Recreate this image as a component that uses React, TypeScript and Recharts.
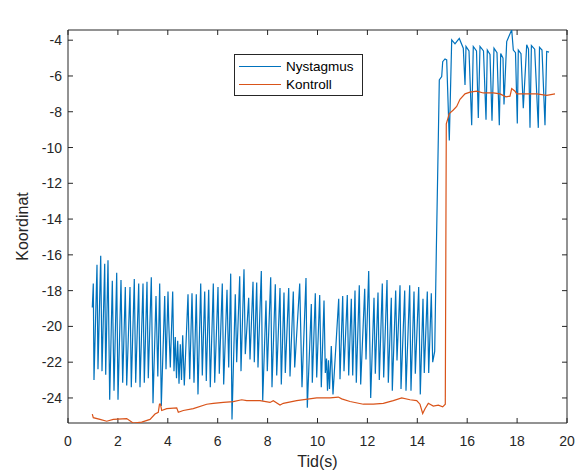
import React from 'react';
import { LineChart, Line, XAxis, YAxis, Legend, ReferenceArea, ReferenceLine } from 'recharts';

// Nystagmus (blue) – time in s, coordinate
const nystagmusTid = [
  0.974, 1.014, 1.042, 1.162, 1.202, 1.311, 1.363, 1.471, 1.511, 1.603, 1.671, 1.776, 1.844, 1.952, 2.004,
  2.124, 2.192, 2.297, 2.353, 2.485, 2.537, 2.657, 2.713, 2.834, 2.886, 3.006, 3.058, 3.166, 3.218, 3.339,
  3.407, 3.527, 3.6, 3.675, 3.74, 3.876, 3.928, 4.008, 4.036, 4.1, 4.196, 4.248, 4.3, 4.349, 4.397, 4.449,
  4.501, 4.549, 4.597, 4.661, 4.81, 4.878, 4.97, 5.05, 5.142, 5.21, 5.319, 5.383, 5.479, 5.543, 5.639, 5.703,
  5.824, 5.88, 6.012, 6.064, 6.184, 6.24, 6.373, 6.441, 6.521, 6.573, 6.705, 6.761, 6.882, 6.934, 7.054,
  7.106, 7.242, 7.295, 7.415, 7.467, 7.563, 7.615, 7.748, 7.804, 7.936, 7.988, 8.124, 8.176, 8.309, 8.365,
  8.497, 8.549, 8.657, 8.709, 8.846, 8.898, 9.03, 9.086, 9.287, 9.379, 9.539, 9.591, 9.752, 9.792, 9.912,
  9.968, 10.088, 10.152, 10.261, 10.313, 10.361, 10.401, 10.441, 10.481, 10.553, 10.621, 10.85, 10.902,
  11.01, 11.062, 11.194, 11.25, 11.355, 11.411, 11.503, 11.555, 11.675, 11.731, 11.892, 11.944, 12.052,
  12.132, 12.265, 12.317, 12.425, 12.477, 12.597, 12.653, 12.786, 12.838, 12.958, 12.998, 13.134, 13.186,
  13.307, 13.347, 13.495, 13.547, 13.695, 13.747, 13.868, 13.92, 14.056, 14.12, 14.228, 14.28, 14.401,
  14.457, 14.561, 14.617, 14.697, 14.762, 14.842, 14.882, 14.978, 15.018, 15.11, 15.178, 15.283, 15.379,
  15.511, 15.579, 15.683, 15.843, 15.912, 15.952, 16.072, 16.18, 16.244, 16.373, 16.445, 16.513, 16.653,
  16.754, 16.806, 16.914, 16.994, 17.074, 17.194, 17.287, 17.343, 17.435, 17.475, 17.583, 17.784, 17.848,
  17.936, 18.008, 18.048, 18.156, 18.248, 18.385, 18.457, 18.517, 18.573, 18.705, 18.85, 18.898, 18.998,
  19.118, 19.186, 19.279,
];
const nystagmusVarde = [
  -18.94, -17.6, -23.0, -16.55, -22.4, -16.05, -22.5, -16.5, -22.7, -16.3, -24.1, -17.45, -23.6, -17.0, -24.1,
  -17.4, -23.15, -17.8, -23.3, -17.8, -23.4, -17.35, -23.15, -17.6, -23.4, -17.6, -23.15, -17.5, -22.9, -17.25,
  -24.3, -18.3, -22.8, -17.6, -24.45, -18.3, -22.4, -18.05, -19.7, -22.3, -18.05, -22.5, -20.6, -22.9, -20.8, -23.2,
  -21.0, -23.0, -20.5, -23.3, -18.2, -22.95, -18.15, -23.15, -18.2, -23.8, -17.6, -22.75, -18.05, -23.05, -17.95, -23.4,
  -17.6, -23.15, -17.8, -22.65, -17.6, -23.25, -17.95, -22.3, -17.05, -25.2, -18.2, -22.0, -17.2, -22.5, -16.8,
  -21.55, -18.4, -21.85, -17.5, -22.0, -17.55, -22.3, -16.9, -24.15, -18.55, -22.5, -17.25, -23.4, -17.65, -22.75,
  -17.85, -23.25, -18.1, -22.6, -17.85, -22.8, -18.05, -22.3, -17.6, -23.4, -17.3, -24.55, -18.75, -23.15, -18.15,
  -22.85, -18.25, -23.4, -18.55, -22.6, -21.8, -23.6, -21.9, -23.5, -21.1, -23.8, -18.45, -22.95,
  -18.3, -22.5, -18.25, -22.75, -18.45, -22.75, -18.0, -23.15, -17.7, -23.25, -17.9, -21.85, -16.9,
  -24.0, -18.4, -22.65, -18.1, -23.0, -17.6, -22.85, -17.4, -23.15, -18.4, -23.6, -18.0, -21.9,
  -17.7, -23.5, -18.0, -23.6, -17.7, -23.6, -18.05, -22.65, -17.8, -23.8, -18.45, -22.6, -18.05,
  -22.6, -18.15, -22.0, -21.4, -15.8, -9.5, -6.22, -6.03, -5.2, -5.05, -5.1, -9.6, -3.98,
  -4.2, -4.08, -3.9, -4.45, -6.5, -4.35, -4.6, -8.75, -4.35, -4.6, -8.35, -4.35, -4.6,
  -8.45, -4.55, -4.8, -8.5, -4.45, -4.7, -8.75, -4.75, -5.0, -7.6, -4.08, -3.42, -4.55,
  -4.7, -8.65, -4.55, -4.75, -7.8, -4.26, -4.5, -8.9, -4.3, -4.5, -8.9, -4.4, -4.55,
  -8.75, -4.63, -4.67,
];

// Kontroll (orange)
const kontrollTid = [
  0.974, 1.014, 1.283, 1.551, 1.816, 2.353, 2.553, 2.617, 2.954, 3.287, 3.487, 3.619, 3.667, 3.707, 3.755,
  3.956, 4.357, 4.421, 4.621, 5.022, 5.559, 5.824, 6.224, 6.625, 6.962, 7.162, 7.563, 7.695, 8.096, 8.228,
  8.497, 8.629, 9.166, 9.968, 10.501, 10.834, 10.97, 11.303, 11.836, 12.236, 12.637, 13.038, 13.375, 13.707,
  13.976, 14.108, 14.216, 14.309, 14.441, 14.641, 14.842, 15.018, 15.122, 15.162, 15.283, 15.443, 15.579,
  15.711, 15.912, 16.112, 16.381, 16.645, 17.046, 17.315, 17.555, 17.715, 17.784, 17.916, 17.984, 18.385,
  18.785, 19.186, 19.519,
];
const kontrollVarde = [
  -24.9, -25.1, -25.2, -25.3, -25.2, -25.15, -25.35, -25.4, -25.35, -25.2, -24.9, -24.8, -24.35, -24.35, -24.7,
  -24.6, -24.55, -24.8, -24.7, -24.6, -24.35, -24.3, -24.25, -24.2, -24.1, -24.15, -24.15, -24.15, -24.25, -24.15,
  -24.4, -24.3, -24.15, -24.0, -24.0, -23.95, -24.05, -24.2, -24.35, -24.35, -24.3, -24.15, -24.0, -24.1,
  -24.15, -24.35, -24.87, -24.6, -24.3, -24.45, -24.4, -24.5, -24.35, -8.67, -8.1, -7.9, -7.7,
  -7.3, -7.0, -6.9, -6.85, -6.95, -6.95, -7.0, -7.17, -7.13, -6.7, -6.85, -7.0, -7.0,
  -7.0, -7.08, -7.0,
];

const tidTicks = [0, 2, 4, 6, 8, 10, 12, 14, 16, 18, 20];
const koordinatTicks = [-24, -22, -20, -18, -16, -14, -12, -10, -8, -6, -4];
const serieNamn = ['Nystagmus', 'Kontroll'];

const nystagmusData = nystagmusTid.map((t, i) => ({ t, v: nystagmusVarde[i] }));
const kontrollData = kontrollTid.map((t, i) => ({ t, v: kontrollVarde[i] }));

const AXIS = '#262626';
const FONT = '"Liberation Sans", Arial, Helvetica, sans-serif';
const X_DOMAIN: [number, number] = [0, 20];
const Y_DOMAIN: [number, number] = [-25.4, -3.43];
// inward tick length, in axis units (about 5 px)
const TICK_X = 0.2;
const TICK_Y = 0.28;

const BottomTick = ({ x, y, payload }: any) => (
  <text x={x} y={y + 23} textAnchor="middle" fill={AXIS} fontSize={14} fontFamily={FONT}>
    {payload.value}
  </text>
);

const LeftTick = ({ x, y, payload }: any) => (
  <text x={x - 6} y={y + 5} textAnchor="end" fill={AXIS} fontSize={14} fontFamily={FONT}>
    {payload.value}
  </text>
);

const LegendBox = ({ payload }: any) => {
  const items = [...(payload || [])].sort(
    (a: any, b: any) => serieNamn.indexOf(a.value) - serieNamn.indexOf(b.value)
  );
  return (
    <div
      style={{
        width: 127,
        height: 38,
        border: `1px solid ${AXIS}`,
        background: '#fff',
        fontFamily: FONT,
        fontSize: 13.5,
        color: '#000',
        paddingTop: 2,
        boxSizing: 'content-box',
      }}
    >
      {items.map((entry: any) => (
        <div key={entry.value} style={{ display: 'flex', alignItems: 'center', height: 18 }}>
          <span
            style={{
              display: 'inline-block',
              width: 42,
              borderTop: `1px solid ${entry.color}`,
              marginLeft: 4,
              marginRight: 5,
            }}
          />
          <span>{entry.value}</span>
        </div>
      ))}
    </div>
  );
};

export default function App() {
  return (
    <div style={{ position: 'absolute', left: 0, top: 0, background: '#fff' }}>
      <LineChart width={584} height={473} margin={{ top: 30, right: 17, bottom: 10, left: 8 }}>
        <XAxis
          dataKey="t"
          type="number"
          domain={X_DOMAIN}
          ticks={tidTicks}
          allowDataOverflow
          height={40}
          axisLine={false}
          tickLine={false}
          tickSize={0}
          tickMargin={0}
          tick={<BottomTick />}
          label={{
            content: ({ viewBox }: any) => (
              <text
                x={viewBox.x + viewBox.width / 2}
                y={viewBox.y + 44}
                textAnchor="middle"
                fill={AXIS}
                fontSize={16}
                fontFamily={FONT}
              >
                Tid(s)
              </text>
            ),
          }}
        />
        <XAxis
          xAxisId="top"
          orientation="top"
          type="number"
          domain={X_DOMAIN}
          height={0}
          axisLine={false}
          tickLine={false}
          tick={false}
          label={{
            content: ({ viewBox }: any) => (
              <text
                x={viewBox.x + viewBox.width / 2}
                y={viewBox.y - 6}
                textAnchor="middle"
                fill="#000"
                fontSize={16.5}
                fontWeight="bold"
                fontFamily={FONT}
              >
                2018-03-28 fm, Oscillation i x-led, vänster öga, fixering 3
              </text>
            ),
          }}
        />
        <YAxis
          type="number"
          domain={Y_DOMAIN}
          ticks={koordinatTicks}
          allowDataOverflow
          width={60}
          axisLine={false}
          tickLine={false}
          tickSize={0}
          tickMargin={0}
          tick={<LeftTick />}
          label={{
            content: ({ viewBox }: any) => {
              const cx = viewBox.x + 20;
              const cy = viewBox.y + viewBox.height / 2;
              return (
                <text
                  x={cx}
                  y={cy}
                  transform={`rotate(-90, ${cx}, ${cy})`}
                  textAnchor="middle"
                  fill={AXIS}
                  fontSize={16}
                  fontFamily={FONT}
                >
                  Koordinat
                </text>
              );
            },
          }}
        />
        <ReferenceArea
          x1={X_DOMAIN[0]}
          x2={X_DOMAIN[1]}
          y1={Y_DOMAIN[0]}
          y2={Y_DOMAIN[1]}
          fill="none"
          fillOpacity={0}
          stroke={AXIS}
          strokeWidth={1}
          ifOverflow="visible"
        />
        {tidTicks.map((t) => (
          <ReferenceLine
            key={`xb${t}`}
            segment={[{ x: t, y: Y_DOMAIN[0] }, { x: t, y: Y_DOMAIN[0] + TICK_Y }]}
            stroke={AXIS}
            strokeWidth={1}
            ifOverflow="visible"
          />
        ))}
        {tidTicks.map((t) => (
          <ReferenceLine
            key={`xt${t}`}
            segment={[{ x: t, y: Y_DOMAIN[1] }, { x: t, y: Y_DOMAIN[1] - TICK_Y }]}
            stroke={AXIS}
            strokeWidth={1}
            ifOverflow="visible"
          />
        ))}
        {koordinatTicks.map((k) => (
          <ReferenceLine
            key={`yl${k}`}
            segment={[{ x: X_DOMAIN[0], y: k }, { x: X_DOMAIN[0] + TICK_X, y: k }]}
            stroke={AXIS}
            strokeWidth={1}
            ifOverflow="visible"
          />
        ))}
        {koordinatTicks.map((k) => (
          <ReferenceLine
            key={`yr${k}`}
            segment={[{ x: X_DOMAIN[1], y: k }, { x: X_DOMAIN[1] - TICK_X, y: k }]}
            stroke={AXIS}
            strokeWidth={1}
            ifOverflow="visible"
          />
        ))}
        <Legend
          layout="horizontal"
          verticalAlign="middle"
          align="center"
          wrapperStyle={{ left: 234, top: 54, width: 129 }}
          content={<LegendBox />}
        />
        <Line
          data={nystagmusData}
          dataKey="v"
          name="Nystagmus"
          type="linear"
          stroke="#0072BD"
          strokeWidth={1.2}
          dot={false}
          isAnimationActive={false}
        />
        <Line
          data={kontrollData}
          dataKey="v"
          name="Kontroll"
          type="linear"
          stroke="#D95319"
          strokeWidth={1.2}
          dot={false}
          isAnimationActive={false}
        />
      </LineChart>
    </div>
  );
}
